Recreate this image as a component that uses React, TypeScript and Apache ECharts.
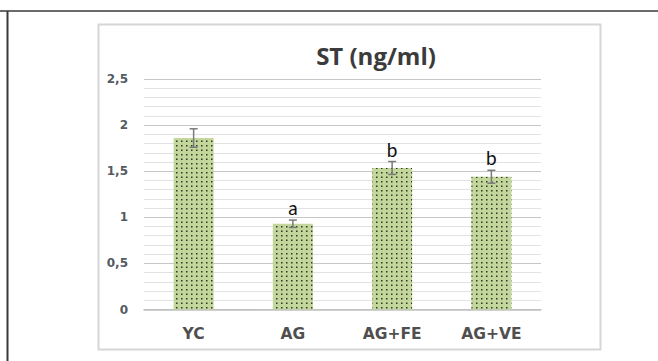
import React, { useEffect, useRef } from "react";
import * as echarts from "echarts";

const categories = ["YC", "AG", "AG+FE", "AG+VE"];
const means = [1.86, 0.93, 1.535, 1.44];
const errors = [0.1, 0.04, 0.07, 0.07];
const letters = ["", "a", "b", "b"];
const yMin = 0;
const yMax = 2.5;
const yMinorStep = 0.1;
const titleText = "ST (ng/ml)";

function makeDotPattern(): string {
  const c = document.createElement("canvas");
  c.width = 10;
  c.height = 9;
  const ctx = c.getContext("2d")!;
  ctx.fillStyle = "#c3d69b";
  ctx.fillRect(0, 0, 10, 9);
  ctx.fillStyle = "#2f3a22";
  const pts = [
    [1, 1],
    [6, 1],
    [1, 5.5],
    [6, 5.5],
  ];
  for (const [x, y] of pts) {
    ctx.fillRect(x, y, 1.5, 1.5);
  }
  return c.toDataURL();
}

export default function App() {
  const ref = useRef<HTMLDivElement>(null);
  useEffect(() => {
    if (!ref.current) return;
    const chart = echarts.init(ref.current, null, { renderer: "svg" });
    const pattern = makeDotPattern();
    const errData = categories.map((_, i) => [i, means[i] - errors[i], means[i] + errors[i], letters[i]]);
    const minorColor = "#e2e2e2";
    const majorColor = "#c6c6c6";
    chart.setOption({
      animation: false,
      backgroundColor: "#ffffff",
      grid: { left: 144, right: 117, top: 79, bottom: 51.5 },
      xAxis: {
        type: "category",
        data: categories,
        axisLine: { lineStyle: { color: "#c0c0c0", width: 1.5 } },
        axisTick: { show: false },
        axisLabel: {
          margin: 16,
          color: "#4f4f4f",
          fontFamily: "DejaVu Sans",
          fontWeight: "bold",
          fontSize: 15.5,
        },
      },
      yAxis: {
        type: "value",
        min: yMin,
        max: yMax,
        interval: yMinorStep,
        axisLine: { show: false },
        axisTick: { show: false },
        splitLine: {
          lineStyle: {
            color: [majorColor, minorColor, minorColor, minorColor, minorColor],
            width: 1,
          },
        },
        axisLabel: {
          margin: 16,
          color: "#555a62",
          fontFamily: "DejaVu Sans",
          fontWeight: "bold",
          fontSize: 12,
          formatter: (v: number) => {
            const r = Math.round(v * 10);
            if (r % 5 !== 0) return "";
            return String(Math.round(v * 10) / 10).replace(".", ",");
          },
        },
      },
      series: [
        {
          type: "bar",
          data: means,
          barWidth: 40,
          itemStyle: {
            color: { image: pattern, repeat: "repeat" },
          },
          silent: true,
        },
        {
          type: "custom",
          data: errData,
          silent: true,
          z: 10,
          renderItem: (params: any, api: any) => {
            const x = api.coord([api.value(0), 0])[0];
            const lo = api.coord([api.value(0), api.value(1)])[1];
            const hi = api.coord([api.value(0), api.value(2)])[1];
            const label = errData[params.dataIndex][3] as string;
            const cap = 4;
            const st = { stroke: "#7a7a7a", lineWidth: 1.5 };
            const children: any[] = [
              { type: "line", shape: { x1: x, y1: lo, x2: x, y2: hi }, style: st },
              { type: "line", shape: { x1: x - cap, y1: hi, x2: x + cap, y2: hi }, style: st },
              { type: "line", shape: { x1: x - cap, y1: lo, x2: x + cap, y2: lo }, style: st },
            ];
            if (label) {
              children.push({
                type: "text",
                style: {
                  text: label,
                  x: x,
                  y: hi - 3,
                  align: "center",
                  verticalAlign: "bottom",
                  fill: "#111111",
                  font: "19px Lato",
                },
              });
            }
            return { type: "group", children };
          },
        },
      ],
      graphic: [
        {
          type: "line",
          shape: { x1: 0, y1: 11, x2: 658, y2: 11 },
          style: { stroke: "#3a3a3a", lineWidth: 1.5 },
          silent: true,
        },
        {
          type: "line",
          shape: { x1: 7.5, y1: 11, x2: 7.5, y2: 361 },
          style: { stroke: "#3a3a3a", lineWidth: 2 },
          silent: true,
        },
        {
          type: "rect",
          shape: { x: 98.5, y: 24.5, width: 502, height: 325 },
          style: { fill: "none", stroke: "#d6d6d6", lineWidth: 2 },
          silent: true,
        },
        {
          type: "text",
          x: 376,
          y: 55,
          style: {
            text: titleText,
            align: "center",
            verticalAlign: "middle",
            fill: "#3b3b3b",
            font: "bold 24px 'Open Sans'",
          },
          silent: true,
        },
      ],
    });
    return () => chart.dispose();
  }, []);
  return (
    <div
      ref={ref}
      style={{ position: "absolute", left: 0, top: 0, width: 658, height: 361, background: "#fff" }}
    />
  );
}
